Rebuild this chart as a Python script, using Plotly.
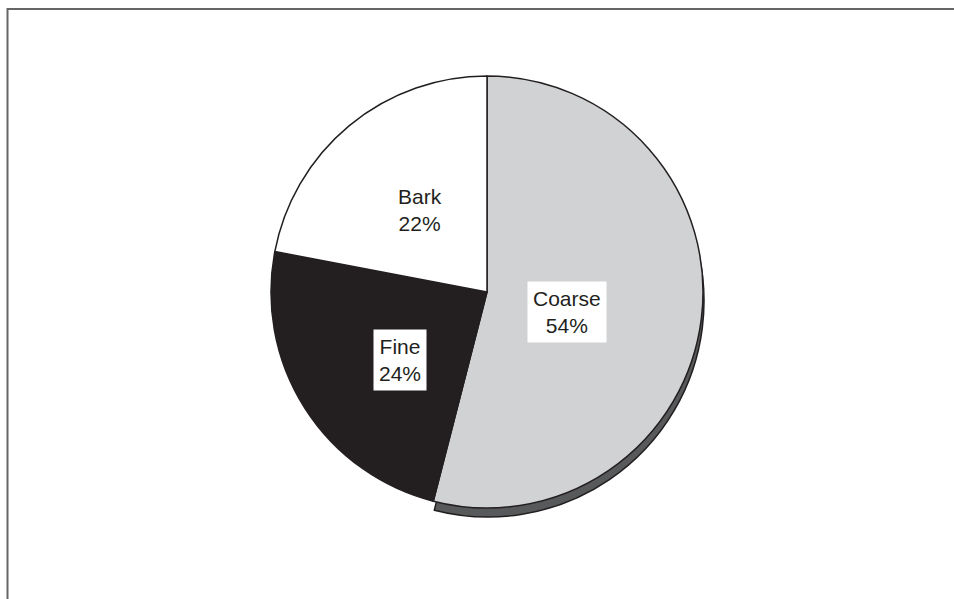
import math
import plotly.graph_objects as go

# ---- data ----
categories = ["Coarse", "Fine", "Bark"]
values = [54, 24, 22]
pct_labels = ["54%", "24%", "22%"]

# ---- style / layout ----
W, H = 954, 599
CX, CY, R = 487, 292, 216          # pie centre / radius in px
SHADOW_DX, SHADOW_DY = 1, 9
colors = ["#d1d2d4", "#231f20", "#ffffff"]
label_radius = [0.38, 0.51, 0.49]  # fraction of radius for each label
label_turn = [0.02, -0.015, 0.0]   # small angular nudge (fraction of a turn)
FONT = "Liberation Sans, Arial, sans-serif"


def dom(cx, cy, r):
    return dict(x=[(cx - r) / W, (cx + r) / W], y=[1 - (cy + r) / H, 1 - (cy - r) / H])


fig = go.Figure()

# 3-D style shadow under the first slice only
fig.add_trace(go.Pie(
    labels=[categories[0], "rest"],
    values=[values[0], sum(values[1:])],
    sort=False, direction="clockwise", rotation=0,
    marker=dict(colors=["#58595b", "rgba(0,0,0,0)"],
                line=dict(color=["#231f20", "rgba(0,0,0,0)"], width=1.5)),
    textinfo="none", hoverinfo="skip", showlegend=False,
    domain=dom(CX + SHADOW_DX, CY + SHADOW_DY, R),
))

fig.add_trace(go.Pie(
    labels=categories, values=values,
    sort=False, direction="clockwise", rotation=0,
    marker=dict(colors=colors, line=dict(color="#231f20", width=1.5)),
    textinfo="none", hoverinfo="label+percent", showlegend=False,
    domain=dom(CX, CY, R),
))

# labels with white boxes, positioned at slice mid-angles
total = sum(values)
cum = 0
annotations = []
for cat, v, p, fr, tw in zip(categories, values, pct_labels, label_radius, label_turn):
    mid = ((cum + v / 2) / total + tw) * 2 * math.pi
    cum += v
    px = CX + fr * R * math.sin(mid)
    py = CY - fr * R * math.cos(mid)
    annotations.append(dict(
        x=px / W, y=1 - py / H, xref="paper", yref="paper",
        text=f"{cat}<br>{p}", showarrow=False,
        font=dict(family=FONT, size=21, color="#231f20"),
        bgcolor="#ffffff", borderpad=5, align="center",
    ))

fig.update_layout(
    width=W, height=H,
    margin=dict(l=0, r=0, t=0, b=0),
    paper_bgcolor="#ffffff", plot_bgcolor="#ffffff",
    annotations=annotations,
    shapes=[dict(type="rect", xref="paper", yref="paper",
                 x0=7.5 / W, y0=1 - 9 / H, x1=1.2, y1=-0.2,
                 line=dict(color="#666666", width=2), layer="below")],
)

fig.write_html("out.html", config={"displayModeBar": False},
               post_script="document.body.style.margin='0';document.body.style.overflow='hidden';")
